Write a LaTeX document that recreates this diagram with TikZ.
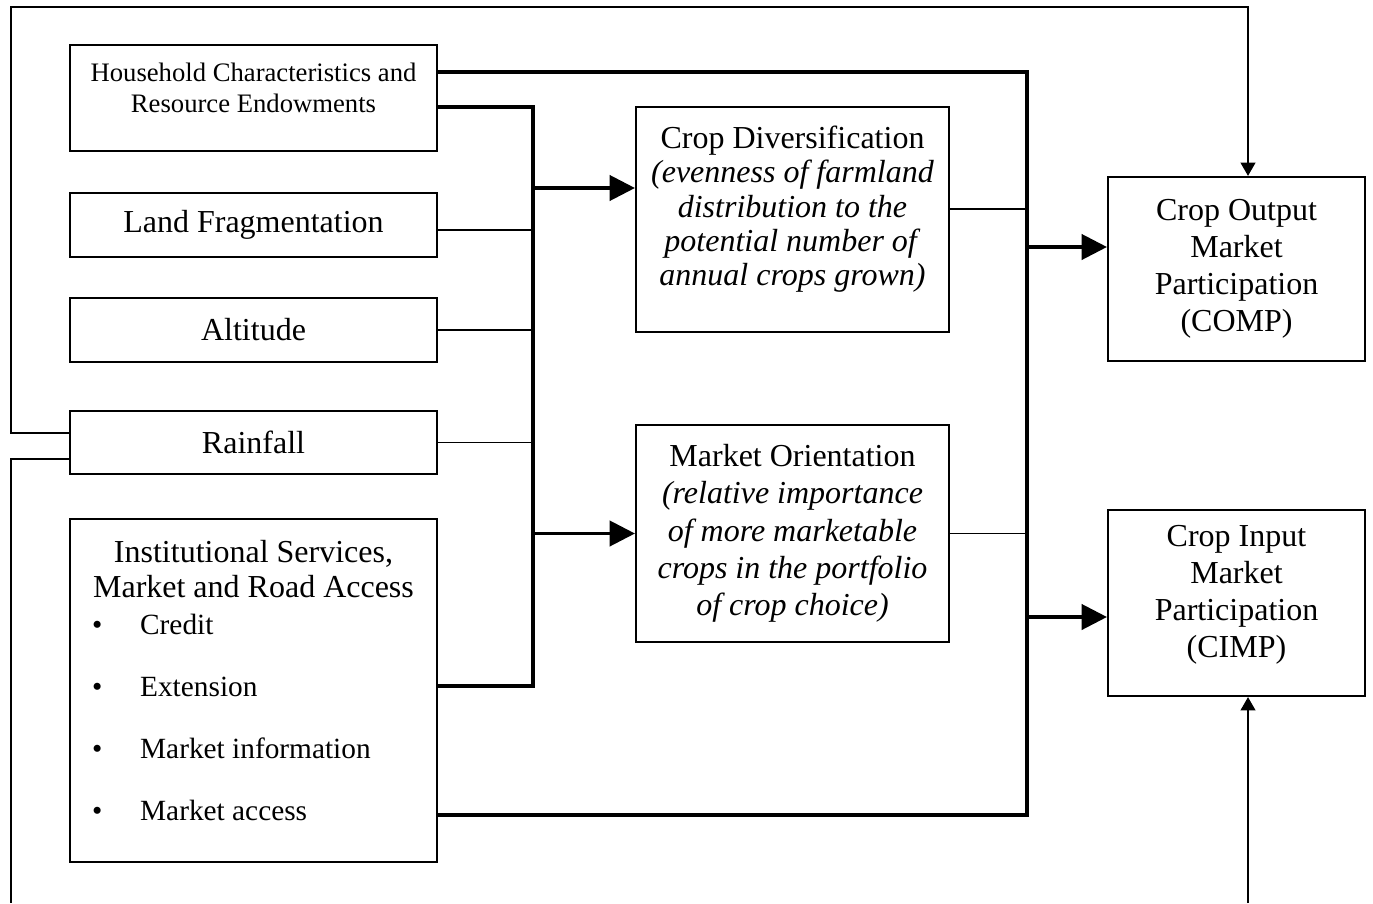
\documentclass[tikz,border=0pt]{standalone}
\usepackage{fontspec}
\setmainfont{Liberation Serif}
\usetikzlibrary{arrows.meta,positioning}
\newcommand\pxu{0.375pt}
\newcommand\bitem[1]{\makebox[24pt][l]{\hspace{6pt}\textbullet}#1}

\begin{document}
\begin{tikzpicture}[x=\pxu, y=-\pxu,
  box/.style={draw, line width=0.8pt, align=center, inner sep=2pt,
    font=\fontsize{12}{13.9}\selectfont},
  leftbox/.style={box, minimum width=367*\pxu},
  midbox/.style={box, minimum width=313*\pxu},
  outbox/.style={box, minimum width=257*\pxu},
  bus/.style={line width=1.8pt},
  link/.style={line width=0.6pt},
  flow/.style={-{Triangle[length=9.5pt, width=9.5pt]}, line width=1.2pt},
  feed/.style={-{Triangle[length=5pt, width=5.5pt]}, line width=0.8pt},
  loop/.style={line width=0.8pt}
]
  \useasboundingbox (0,0) rectangle (1373,903);

  \node[leftbox, minimum height=106*\pxu, font=\fontsize{10}{11.6}\selectfont] (hh) at (253.5,98)
    {Household Characteristics and\\Resource Endowments\\[-4pt]\mbox{}};
  \node[leftbox, minimum height=64*\pxu] (land) at (253.5,225) {Land Fragmentation};
  \node[leftbox, minimum height=64*\pxu] (alt) at (253.5,330) {Altitude};
  \node[leftbox, minimum height=63*\pxu] (rain) at (253.5,442.5) {Rainfall};
  \node[leftbox, minimum height=343*\pxu, text width=133pt, align=left,
    font=\fontsize{12}{13.1}\selectfont] (inst) at (253.5,690.5) {%
    \spaceskip=0pt \xspaceskip=0pt
    {\centering Institutional Services,\\ Market and Road Access\par}
    \fontsize{11}{13.9}\selectfont\raggedright
    \bitem{Credit}\\[9.4pt]
    \bitem{Extension}\\[9.4pt]
    \bitem{Market information}\\[9.4pt]
    \bitem{Market access}\\[-5.6pt]\mbox{}};

  \node[midbox, minimum height=225*\pxu, font=\fontsize{12}{12.8}\selectfont] (cd) at (792.5,219.5)
    {Crop Diversification\\ \textit{(evenness of farmland}\\ \textit{distribution to the}\\
     \textit{potential number of}\\ \textit{annual crops grown)}\\[-2.5pt]\mbox{}};
  \node[midbox, minimum height=217*\pxu] (mo) at (792.5,533.5)
    {Market Orientation\\ \textit{(relative importance}\\ \textit{of more marketable}\\
     \textit{crops in the portfolio}\\ \textit{of crop choice)}\\[-11.2pt]\mbox{}};

  \node[outbox, minimum height=184*\pxu] (comp) at (1236.5,269)
    {Crop Output\\Market\\Participation\\(COMP)};
  \node[outbox, minimum height=186*\pxu] (cimp) at (1236.5,603)
    {Crop Input\\Market\\Participation\\(CIMP)\\[-5.3pt]\mbox{}};

  \coordinate (ltop) at (533,107);
  \coordinate (lbot) at (533,686);
  \coordinate (rtop) at (1027,72);
  \coordinate (rbot) at (1027,815);
  \coordinate (cdin) at (533,188);
  \coordinate (cdout) at (1027,209);
  \coordinate (compin) at (1027,247);
  \coordinate (cimpin) at (1027,617);
  \coordinate (up) at (11,433);
  \coordinate (down) at (11,459);
  \coordinate (corner) at (1248,7);
  \coordinate (downend) at (11,903);
  \coordinate (upstart) at (1248,903);

  \draw[bus] (hh.east |- rtop) -- (rtop) -- (rbot) -- (inst.east |- rbot);
  \draw[bus] (hh.east |- ltop) -- (ltop) -- (lbot) -- (inst.east |- lbot);
  \draw[link] ([yshift=-1.9pt]land.east) -- ([yshift=-1.9pt]land.east -| ltop);
  \draw[link] (alt.east) -- (alt.east -| ltop);
  \draw[link] (rain.east) -- (rain.east -| ltop);
  \draw[flow] (cdin) -- (cdin -| cd.west);
  \draw[flow] (mo.west -| ltop) -- (mo.west);
  \draw[link] (cdout -| cd.east) -- (cdout);
  \draw[link] (mo.east) -- (mo.east -| rtop);
  \draw[flow] (compin) -- (compin -| comp.west);
  \draw[flow] (cimpin) -- (cimpin -| cimp.west);

  \draw[feed] (up -| rain.west) -- (up) |- (corner) -- (corner |- comp.north);
  \draw[loop] (down -| rain.west) -- (down) -- (downend);
  \draw[feed] (upstart) -- (upstart |- cimp.south);
\end{tikzpicture}
\end{document}
